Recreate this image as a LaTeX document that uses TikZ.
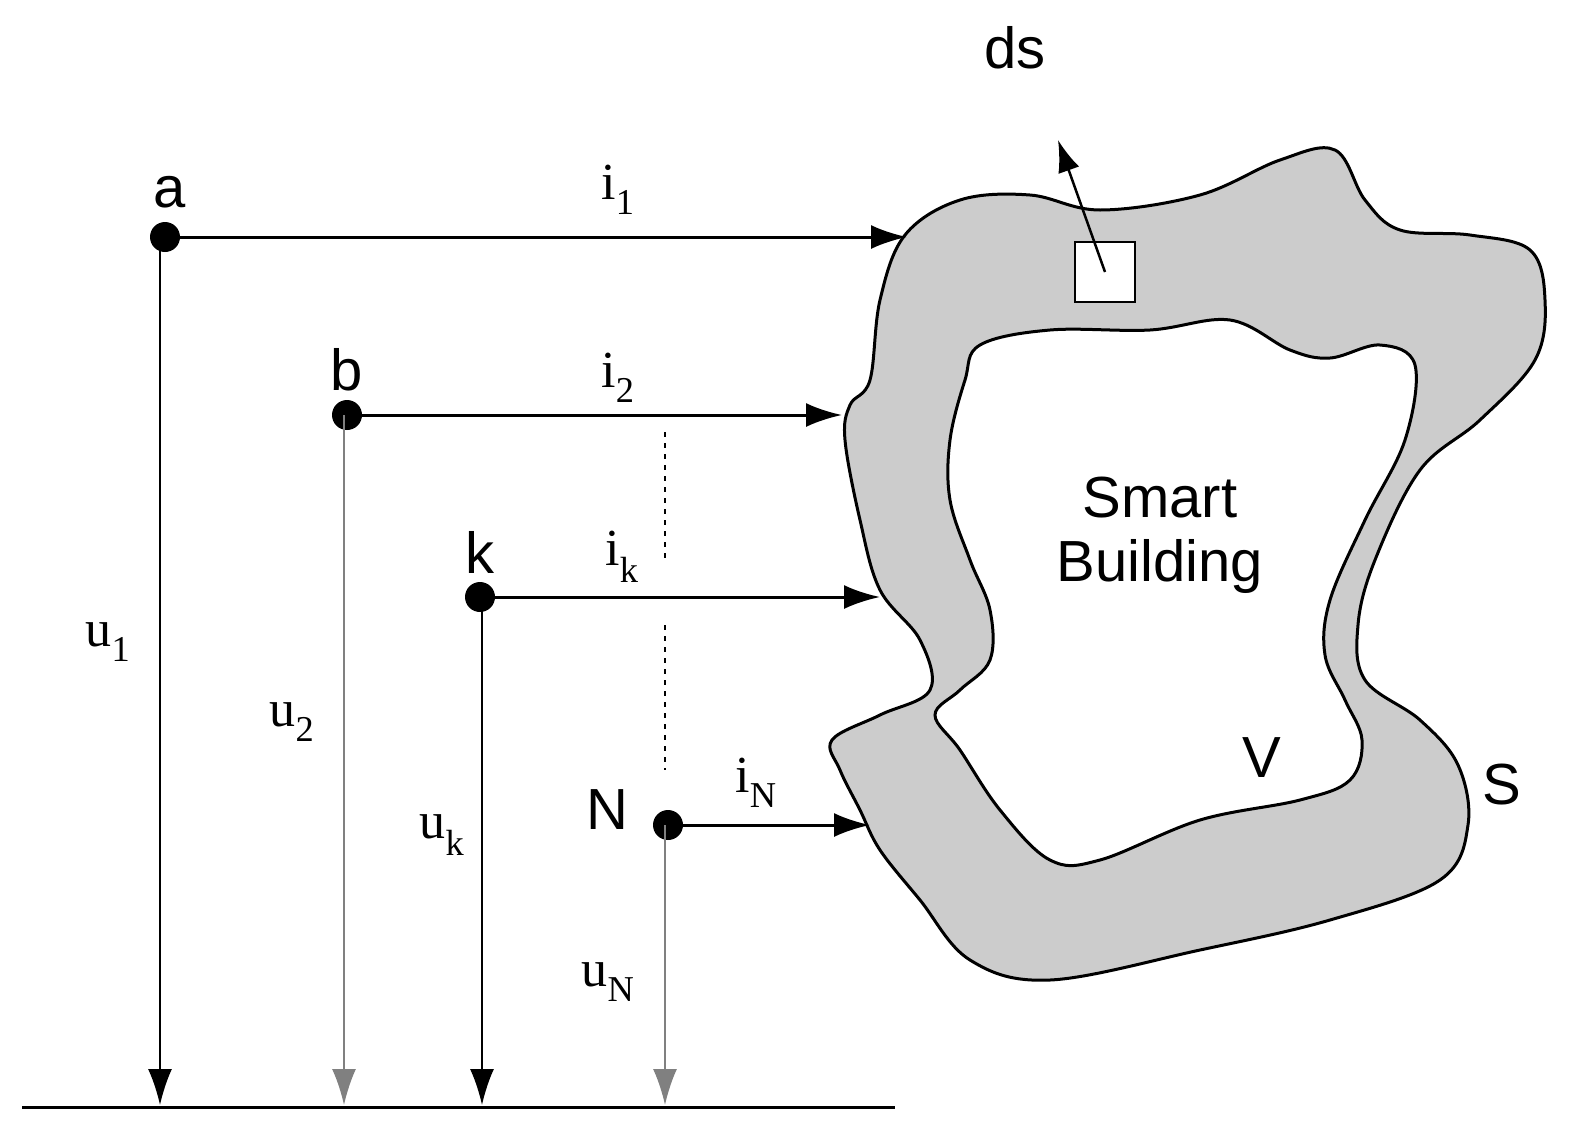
\documentclass[tikz,border=0pt]{standalone}
\usepackage{fontspec}
\setmainfont{Liberation Serif}
\newfontfamily\sansf{Liberation Sans}
\usetikzlibrary{arrows.meta}
\begin{document}
\begin{tikzpicture}[x=1pt,y=-1pt,
  tip/.style={-{Latex[length=36pt,width=24pt]}},
  cur/.style={tip,line width=3pt},
  vol/.style={tip,line width=1.8pt},
  dot/.style={circle,fill=black,inner sep=0pt,minimum size=30pt},
  sl/.style={font=\sansf\fontsize{58}{64}\selectfont},
  ml/.style={font=\fontsize{52}{56}\selectfont}]
\useasboundingbox (0,0) rectangle (1574,1136);
% building
\draw[line width=3pt,fill=gray!40] plot[smooth cycle,tension=0.6] coordinates{
(905,235)(960,200)(1030,195)(1100,210)(1200,195)(1280,160)(1335,150)(1365,200)(1400,230)(1470,235)(1530,250)(1545,300)(1535,360)(1480,420)(1420,470)(1375,560)(1358,625)(1365,680)(1420,720)(1458,765)(1468,825)(1440,880)(1330,920)(1200,950)(1050,980)(970,960)(920,900)(880,850)(860,810)(840,770)(832,740)(880,715)(930,690)(920,640)(880,590)(860,520)(845,440)(850,405)(870,380)(880,300)};
\draw[line width=3pt,fill=white] plot[smooth cycle,tension=0.6] coordinates{
(980,345)(1050,330)(1150,330)(1230,320)(1290,350)(1330,358)(1380,345)(1415,365)(1405,440)(1365,520)(1330,600)(1325,655)(1345,700)(1362,740)(1350,780)(1300,800)(1200,820)(1100,860)(1050,860)(1000,810)(960,750)(935,715)(960,690)(990,660)(990,610)(970,560)(950,500)(950,440)(965,380)};
\node[draw,line width=2.5pt,fill=white,minimum size=60pt,inner sep=0pt] (sq) at (1105,272) {};
\coordinate (dsend) at (1058,140);
\draw[line width=2.5pt,-{Latex[length=32pt,width=22pt]}] (sq.center) -- (dsend);
\node[sl] (ds) at (1015,48) {ds};
\node[sl,align=center] (sb) at (1160,535) {Smart\\Building};
\node[sl] (V) at (1262,758) {V};
\node[sl] (S) at (1502,785) {S};
% nodes
\node[dot] (a) at (165,237) {};
\node[dot] (b) at (347,415) {};
\node[dot] (k) at (480,597) {};
\node[dot] (n) at (668,825) {};
\node[sl] at (170,192) {a};
\node[sl] at (347,370) {b};
\node[sl] at (480,552) {k};
\node[sl] at (607,810) {N};
\coordinate (e1) at (907,237);
\coordinate (e2) at (842,415);
\coordinate (ek) at (880,597);
\coordinate (eN) at (870,825);
\draw[cur] (a) -- (e1);
\draw[cur] (b) -- (e2);
\draw[cur] (k) -- (ek);
\draw[cur] (n) -- (eN);
\node[ml] at (618,190) {i\textsubscript{1}};
\node[ml] at (618,378) {i\textsubscript{2}};
\node[ml] at (622,557) {i\textsubscript{k}};
\node[ml] at (756,783) {i\textsubscript{N}};
% ground
\coordinate (g1) at (22,1107);
\coordinate (g2) at (895,1107);
\draw[line width=3pt] (g1) -- (g2);
\coordinate (ga) at (160,1105);
\coordinate (gb) at (344,1105);
\coordinate (gk) at (482,1105);
\coordinate (gn) at (665,1105);
\draw[vol] (a.center) ++(-5,0) -- (ga);
\draw[vol,gray] (b.center) ++(-3,0) -- (gb);
\draw[vol] (k.center) ++(2,0) -- (gk);
\draw[vol,gray] (n.center) ++(-3,0) -- (gn);
\node[ml] at (108,642) {u\textsubscript{1}};
\node[ml] at (292,722) {u\textsubscript{2}};
\node[ml] at (442,835) {u\textsubscript{k}};
\node[ml] at (608,982) {u\textsubscript{N}};
\coordinate (d1) at (665,432); \coordinate (d2) at (665,560);
\coordinate (d3) at (665,625); \coordinate (d4) at (665,770);
\draw[line width=2.5pt,dash pattern=on 5pt off 6pt] (d1) -- (d2);
\draw[line width=2.5pt,dash pattern=on 5pt off 6pt] (d3) -- (d4);
\end{tikzpicture}
\end{document}
